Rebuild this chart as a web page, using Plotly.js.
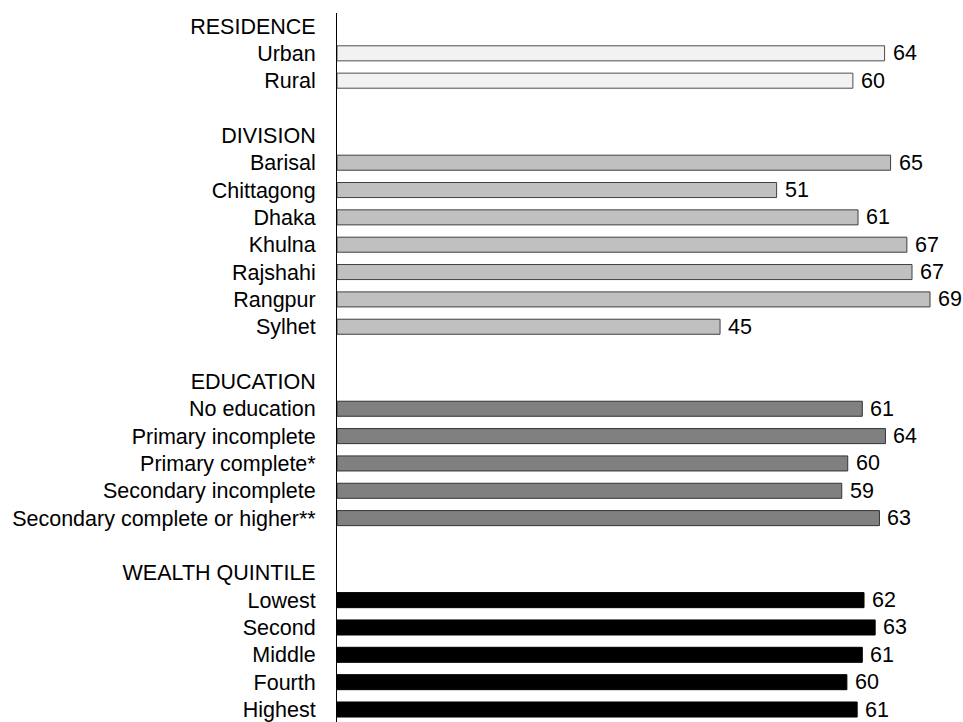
<!DOCTYPE html>
<html>
<head>
<meta charset="utf-8">
<script src="https://cdn.plot.ly/plotly-3.0.1.min.js"></script>
<style>html,body{margin:0;padding:0;background:#fff;}#chart{width:963px;height:722px;}</style>
</head>
<body>
<div id="chart"></div>
<script>
// ---- data ----
const groupHeaders = ["RESIDENCE", "DIVISION", "EDUCATION", "WEALTH QUINTILE"];

const residenceCats = ["Urban", "Rural"];
const residenceVals = [63.9, 60.2];
const residenceLabels = ["64", "60"];

const divisionCats = ["Barisal", "Chittagong", "Dhaka", "Khulna", "Rajshahi", "Rangpur", "Sylhet"];
const divisionVals = [64.6, 51.3, 60.8, 66.5, 67.1, 69.2, 44.7];
const divisionLabels = ["65", "51", "61", "67", "67", "69", "45"];

const educationCats = ["No education", "Primary incomplete", "Primary complete*", "Secondary incomplete", "Secondary complete or higher**"];
const educationVals = [61.3, 64.0, 59.6, 58.9, 63.3];
const educationLabels = ["61", "64", "60", "59", "63"];

const wealthCats = ["Lowest", "Second", "Middle", "Fourth", "Highest"];
const wealthVals = [61.5, 62.8, 61.3, 59.5, 60.7];
const wealthLabels = ["62", "63", "61", "60", "61"];

// ---- build ----
const FONT = "Liberation Sans, Arial, sans-serif";
const FS = 21.5;
const groups = [
  {cats: residenceCats, vals: residenceVals, labels: residenceLabels, fill: "#f2f2f2", line: "#4d4d4d"},
  {cats: divisionCats, vals: divisionVals, labels: divisionLabels, fill: "#c0c0c0", line: "#404040"},
  {cats: educationCats, vals: educationVals, labels: educationLabels, fill: "#808080", line: "#333333"},
  {cats: wealthCats, vals: wealthVals, labels: wealthLabels, fill: "#000000", line: "#000000"}
];

const tickvals = [], ticktext = [], traces = [], annotations = [];
let pos = 0;
groups.forEach((g, gi) => {
  tickvals.push(pos); ticktext.push(groupHeaders[gi]); pos++;
  const ys = [];
  g.cats.forEach((c, i) => {
    tickvals.push(pos); ticktext.push(c); ys.push(pos);
    annotations.push({x: g.vals[i], y: pos, xref: "x", yref: "y", text: g.labels[i],
      showarrow: false, xanchor: "left", yanchor: "middle", xshift: 6,
      font: {family: FONT, size: FS, color: "#000"}});
    pos++;
  });
  traces.push({type: "bar", orientation: "h", x: g.vals, y: ys, width: 0.55,
    marker: {color: g.fill, line: {color: g.line, width: 1}}, hoverinfo: "skip"});
  pos++;
});

const layout = {
  width: 963, height: 722,
  margin: {l: 337, r: 0, t: 13, b: 0},
  paper_bgcolor: "#fff", plot_bgcolor: "#fff",
  showlegend: false,
  font: {family: FONT, size: FS, color: "#000"},
  xaxis: {range: [0, 73.05], showgrid: false, zeroline: false, showline: false, showticklabels: false, ticks: ""},
  yaxis: {range: [25.457, -0.475], tickmode: "array", tickvals: tickvals, ticktext: ticktext,
    showgrid: false, zeroline: false, showline: true, linecolor: "#000", linewidth: 1,
    ticks: "", ticklabelstandoff: 16, ticklabeloverflow: "allow",
    tickfont: {family: FONT, size: FS, color: "#000"}},
  annotations: annotations
};

Plotly.newPlot("chart", traces, layout, {staticPlot: true});
</script>
</body>
</html>
